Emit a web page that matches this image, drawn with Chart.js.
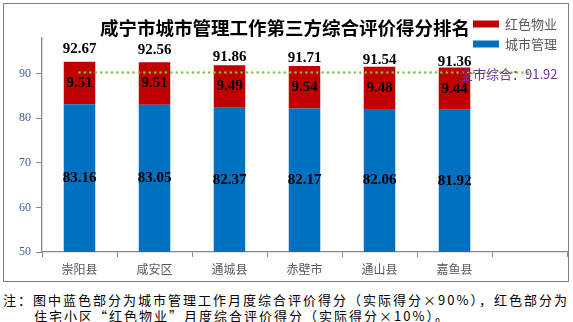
<!DOCTYPE html>
<html>
<head>
<meta charset="utf-8">
<script src="https://cdn.jsdelivr.net/npm/chart.js@4.4.1/dist/chart.umd.min.js"></script>
<style>
    body { margin: 0; background: #fff; }
    #marco { position: absolute; left: 3px; top: 3px; width: 566px; height: 279px; box-sizing: border-box; border: 1px solid #7f7f7f; }
    #grafico { position: absolute; left: 0; top: 0; }
    #titulo { position: absolute; left: 0; top: 16px; width: 570px; text-align: center; font: bold 18.5px "Noto Sans CJK SC"; line-height: 22px; color: #000; }
    #nota { position: absolute; left: 3px; top: 292px; font: 13px "Noto Sans CJK SC"; letter-spacing: 2px; line-height: 15.5px; white-space: nowrap; color: #000; }
    #nota div + div { padding-left: 31px; }
</style>
</head>
<body>
<div id="marco"></div>
<canvas id="grafico" width="573" height="290"></canvas>
<div id="titulo">咸宁市城市管理工作第三方综合评价得分排名</div>
<div id="nota">
    <div>注：图中蓝色部分为城市管理工作月度综合评价得分（实际得分×90%），红色部分为</div>
    <div>住宅小区“红色物业”月度综合评价得分（实际得分×10%）。</div>
</div>
<script>
var categorias = ['崇阳县', '咸安区', '通城县', '赤壁市', '通山县', '嘉鱼县', ''];
var cityMgmt = [83.16, 83.05, 82.37, 82.17, 82.06, 81.92, null];
var redProp = [9.51, 9.51, 9.49, 9.54, 9.48, 9.44, null];
var totals = [92.67, 92.56, 91.86, 91.71, 91.54, 91.36, null];
var cityAvg = [91.92, 91.92, 91.92, 91.92, 91.92, 91.92, 91.92];

var AXIS_COLOR = '#868686';

// numeros sobre las barras, etiqueta de la linea y leyenda
var etiquetas = {
    id: 'etiquetas',
    afterDatasetsDraw: function (chart) {
        var ctx = chart.ctx;
        var area = chart.chartArea;
        var metaBlue = chart.getDatasetMeta(0);
        var metaRed = chart.getDatasetMeta(1);
        var yTot = chart.scales.yTot;

        ctx.save();
        ctx.font = 'bold 15px "Liberation Serif"';
        ctx.fillStyle = '#000';
        ctx.textAlign = 'center';
        ctx.textBaseline = 'middle';
        for (var i = 0; i < categorias.length; i++) {
            if (totals[i] === null) {
                continue;
            }
            var b = metaBlue.data[i];
            var r = metaRed.data[i];
            var base = Math.min(b.base, area.bottom);
            ctx.fillText(cityMgmt[i].toFixed(2), b.x, (b.y + base) / 2);
            ctx.fillText(redProp[i].toFixed(2), r.x, (r.y + r.base) / 2);
            ctx.fillText(totals[i].toFixed(2), r.x, yTot.getPixelForValue(totals[i]));
        }

        var metaLine = chart.getDatasetMeta(2);
        var last = metaLine.data[metaLine.data.length - 1];
        ctx.font = '13px "Noto Sans CJK SC"';
        ctx.fillStyle = '#7030A0';
        ctx.textAlign = 'right';
        ctx.fillText('全市综合：' + cityAvg[cityAvg.length - 1].toFixed(2), last.x + 28, last.y + 1);

        var items = [chart.data.datasets[1], chart.data.datasets[0]];
        ctx.textAlign = 'left';
        for (var k = 0; k < items.length; k++) {
            var y = 24 + k * 20;
            ctx.fillStyle = items[k].backgroundColor;
            ctx.fillRect(473, y - 3.5, 26, 7);
            ctx.fillStyle = '#595959';
            ctx.fillText(items[k].label, 505, y);
        }
        ctx.restore();
    }
};

var GRAFICO = new Chart(document.getElementById('grafico'), {
    type: 'bar',
    data: {
        labels: categorias,
        datasets: [
            {
                label: '城市管理',
                data: cityMgmt,
                backgroundColor: '#0070C0',
                barPercentage: 0.42,
                categoryPercentage: 1,
                order: 1
            },
            {
                label: '红色物业',
                data: redProp,
                backgroundColor: '#C00000',
                barPercentage: 0.42,
                categoryPercentage: 1,
                order: 1
            },
            {
                type: 'line',
                label: '全市综合',
                data: cityAvg,
                yAxisID: 'y2',
                borderColor: '#7CC243',
                borderWidth: 2.5,
                borderDash: [0.1, 5.3],
                borderCapStyle: 'round',
                pointRadius: 0,
                fill: false,
                order: 0
            }
        ]
    },
    options: {
        responsive: false,
        animation: false,
        devicePixelRatio: 1,
        layout: {
            padding: { top: 38, right: 6, left: 0, bottom: 0 }
        },
        plugins: {
            legend: { display: false },
            tooltip: { enabled: false },
            title: { display: false }
        },
        scales: {
            x: {
                stacked: true,
                grid: { offset: true, drawOnChartArea: false, tickLength: 5, color: AXIS_COLOR },
                border: { color: AXIS_COLOR, width: 1.3 },
                ticks: { color: '#595959', font: { family: 'Noto Sans CJK SC', size: 12 }, padding: 5 },
                afterFit: function (s) { s.height = 38; }
            },
            y: {
                stacked: true,
                min: 50,
                max: 98,
                ticks: {
                    stepSize: 10,
                    includeBounds: false,
                    color: '#3F5F9F',
                    font: { family: 'Liberation Serif', size: 12 },
                    padding: 5
                },
                grid: { drawOnChartArea: false, tickLength: 6, color: AXIS_COLOR },
                border: { color: AXIS_COLOR, width: 1.3 },
                afterFit: function (s) { s.width = 42; }
            },
            y2: { display: false, min: 50, max: 100 },
            yTot: { display: false, axis: 'y', min: 73, max: 93.7 }
        }
    },
    plugins: [etiquetas]
});
</script>
</body>
</html>
